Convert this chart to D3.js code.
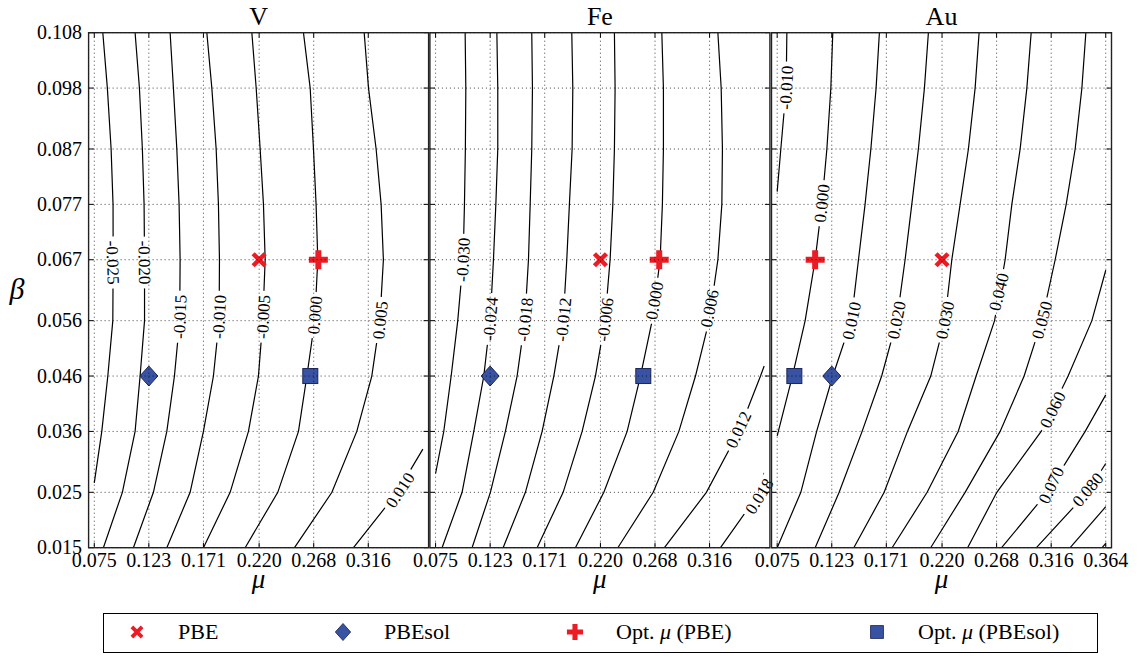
<!DOCTYPE html>
<html>
<head>
<meta charset="utf-8">
<script src="https://cdn.jsdelivr.net/npm/d3@7/dist/d3.min.js"></script>
<style>
  body { margin: 0; background: #fff; }
  svg { display: block; font-family: "Liberation Serif", "Times New Roman", serif; }
</style>
</head>
<body>
<div id="chart"></div>
<script>
//Panel titles and axis ticks (ticks sit on the printed values)
const panelNames = ["V", "Fe", "Au"];
const xTickValues = [0.075, 0.123, 0.171, 0.220, 0.268, 0.316, 0.364];
const xTickLabels = ["0.075", "0.123", "0.171", "0.220", "0.268", "0.316", "0.364"];
//number of x ticks shown in each panel (the last one only on Au)
const xTickCount = [6, 6, 7];
const yTickValues = [0.015, 0.025, 0.036, 0.046, 0.056, 0.067, 0.077, 0.087, 0.098, 0.108];
const yTickLabels = ["0.015", "0.025", "0.036", "0.046", "0.056", "0.067", "0.077", "0.087", "0.098", "0.108"];

//Contour lines: [level, [[mu, beta], ...]]
const contoursV = [
  ["-0.025", [[0.0825,0.108],[0.0865,0.098],[0.0898,0.087],[0.0915,0.077],[0.0916,0.067],[0.0913,0.056],[0.0869,0.046],[0.0816,0.036],[0.075,0.0267]]],
  ["-0.020", [[0.1109,0.108],[0.1147,0.098],[0.1173,0.087],[0.1188,0.077],[0.1192,0.067],[0.1192,0.056],[0.1153,0.046],[0.1109,0.036],[0.0997,0.025],[0.0830,0.015]]],
  ["-0.015", [[0.1417,0.108],[0.1446,0.098],[0.1476,0.087],[0.1496,0.077],[0.1505,0.067],[0.1501,0.056],[0.1455,0.046],[0.1388,0.036],[0.1270,0.025],[0.1094,0.015]]],
  ["-0.010", [[0.1740,0.108],[0.1784,0.098],[0.1822,0.087],[0.1842,0.077],[0.1851,0.067],[0.1848,0.056],[0.1798,0.046],[0.1710,0.036],[0.1593,0.025],[0.1388,0.015]]],
  ["-0.005", [[0.2136,0.108],[0.2174,0.098],[0.2209,0.087],[0.2238,0.077],[0.2253,0.067],[0.2232,0.056],[0.2194,0.046],[0.2106,0.036],[0.1945,0.025],[0.1710,0.015]]],
  ["0.000",  [[0.2590,0.108],[0.2649,0.098],[0.2678,0.087],[0.2701,0.077],[0.2716,0.067],[0.2689,0.056],[0.2620,0.046],[0.2546,0.036],[0.2364,0.025],[0.2077,0.015]]],
  ["0.005",  [[0.3124,0.108],[0.3162,0.098],[0.3229,0.087],[0.3273,0.077],[0.3293,0.067],[0.3262,0.056],[0.3191,0.046],[0.3059,0.036],[0.2840,0.025],[0.2511,0.015]]],
  ["0.010",  [[0.364,0.0328],[0.3414,0.025],[0.3030,0.015]]]
];
const contoursFe = [
  ["-0.030", [[0.1010,0.108],[0.1016,0.098],[0.1012,0.087],[0.1004,0.077],[0.0992,0.067],[0.0945,0.056],[0.0887,0.046],[0.0822,0.036],[0.075,0.0284]]],
  ["-0.024", [[0.1289,0.108],[0.1297,0.098],[0.1297,0.087],[0.1280,0.077],[0.1259,0.067],[0.1230,0.056],[0.1174,0.046],[0.1086,0.036],[0.0983,0.025],[0.0807,0.015]]],
  ["-0.018", [[0.1596,0.108],[0.1602,0.098],[0.1596,0.087],[0.1582,0.077],[0.1567,0.067],[0.1535,0.056],[0.1467,0.046],[0.1364,0.036],[0.1232,0.025],[0.1071,0.015]]],
  ["-0.012", [[0.1948,0.108],[0.1957,0.098],[0.1951,0.087],[0.1927,0.077],[0.1904,0.067],[0.1872,0.056],[0.1790,0.046],[0.1687,0.036],[0.1540,0.025],[0.1344,0.015]]],
  ["-0.006", [[0.2323,0.108],[0.2329,0.098],[0.2323,0.087],[0.2309,0.077],[0.2285,0.067],[0.2240,0.056],[0.2156,0.046],[0.2039,0.036],[0.1872,0.025],[0.1643,0.015]]],
  ["0.000",  [[0.2740,0.108],[0.2754,0.098],[0.2754,0.087],[0.2745,0.077],[0.2725,0.067],[0.2655,0.056],[0.2552,0.046],[0.2435,0.036],[0.2230,0.025],[0.1980,0.015]]],
  ["0.006",  [[0.3233,0.108],[0.3262,0.098],[0.3273,0.087],[0.3268,0.077],[0.3233,0.067],[0.3156,0.056],[0.3036,0.046],[0.2890,0.036],[0.2664,0.025],[0.2353,0.015]]],
  ["0.012",  [[0.364,0.0478],[0.3608,0.046],[0.3417,0.036],[0.3132,0.025],[0.2763,0.015]]],
  ["0.018",  [[0.364,0.0285],[0.3600,0.025],[0.3256,0.015]]]
];
const contoursAu = [
  ["-0.010", [[0.0835,0.108],[0.0829,0.098],[0.0782,0.087],[0.075,0.0793]]],
  ["0.000",  [[0.1239,0.108],[0.1222,0.098],[0.1187,0.087],[0.1143,0.077],[0.1084,0.067],[0.0996,0.056],[0.0884,0.046],[0.075,0.0352]]],
  ["0.010",  [[0.1649,0.108],[0.1620,0.098],[0.1574,0.087],[0.1523,0.077],[0.1465,0.067],[0.1402,0.056],[0.1239,0.046],[0.1097,0.036],[0.0958,0.025],[0.075,0.015]]],
  ["0.020",  [[0.2080,0.108],[0.2045,0.098],[0.1992,0.087],[0.1934,0.077],[0.1875,0.067],[0.1802,0.056],[0.1669,0.046],[0.1497,0.036],[0.1295,0.025],[0.1084,0.015]]],
  ["0.030",  [[0.2526,0.108],[0.2491,0.098],[0.2432,0.087],[0.2359,0.077],[0.2286,0.067],[0.2225,0.056],[0.2101,0.046],[0.1896,0.036],[0.1691,0.025],[0.1424,0.015]]],
  ["0.040",  [[0.2984,0.108],[0.2946,0.098],[0.2887,0.087],[0.2814,0.077],[0.2755,0.067],[0.2662,0.056],[0.2500,0.046],[0.2342,0.036],[0.2069,0.025],[0.1761,0.015]]],
  ["0.050",  [[0.3465,0.108],[0.3430,0.098],[0.3371,0.087],[0.3292,0.077],[0.3195,0.067],[0.3078,0.056],[0.2922,0.046],[0.2711,0.036],[0.2403,0.025],[0.2100,0.015]]],
  ["0.060",  [[0.364,0.0651],[0.3518,0.056],[0.3309,0.046],[0.3072,0.036],[0.2682,0.025],[0.2425,0.015]]],
  ["0.070",  [[0.364,0.0426],[0.3459,0.036],[0.3126,0.025],[0.2724,0.015]]],
  ["0.080",  [[0.364,0.0302],[0.3478,0.025],[0.3030,0.015]]],
  ["0.090",  [[0.364,0.0224],[0.3327,0.015]]],
  ["0.100",  [[0.364,0.0158],[0.3608,0.015]]]
];

//Inline contour labels: [text, mu, beta, rotation]
const labelsV = [
  ["-0.025", 0.0913, 0.0665, 88], ["-0.020", 0.1192, 0.0665, 89],
  ["-0.015", 0.1503, 0.0567, -88], ["-0.010", 0.1849, 0.0567, -87],
  ["-0.005", 0.2236, 0.0567, -87], ["0.000", 0.2690, 0.0570, -85],
  ["0.005", 0.3265, 0.0561, -84], ["0.010", 0.3440, 0.0254, -56]
];
const labelsFe = [
  ["-0.030", 0.0992, 0.0670, -87], ["-0.024", 0.1232, 0.0563, -85],
  ["-0.018", 0.1537, 0.0562, -84], ["-0.012", 0.1874, 0.0562, -84],
  ["-0.006", 0.2242, 0.0562, -83], ["0.000", 0.2675, 0.0596, -80],
  ["0.006", 0.3160, 0.0582, -79], ["0.012", 0.3414, 0.0363, -65],
  ["0.018", 0.3597, 0.0243, -58]
];
const labelsAu = [
  ["-0.010", 0.0831, 0.0981, -87], ["0.000", 0.1143, 0.0772, -84],
  ["0.010", 0.1405, 0.0560, -78], ["0.020", 0.1800, 0.0561, -79],
  ["0.030", 0.2226, 0.0561, -78], ["0.040", 0.2700, 0.0612, -76],
  ["0.050", 0.3079, 0.0561, -75], ["0.060", 0.3173, 0.0399, -64],
  ["0.070", 0.3160, 0.0263, -65], ["0.080", 0.3482, 0.0255, -50]
];

//Functional points (same beta in every panel), mu per panel V, Fe, Au
const pbeMu = [0.220, 0.220, 0.220];
const pbeBeta = 0.067;
const pbesolMu = [0.123, 0.123, 0.123];
const pbesolBeta = 0.046;
const optPbeMu = [0.2721, 0.2717, 0.1084];
const optPbesolMu = [0.2650, 0.2577, 0.0901];

const legendLabels = ["PBE", "PBEsol", "Opt. \u03bc (PBE)", "Opt. \u03bc (PBEsol)"];

//------------------------------------------------------------------------------------->
const red = "#ec1c24", blue = "#3953a4", navy = "#1c2553";
const panelLeft = [88.6, 429.9, 771.5], panelWidth = 340;
const plotTop = 32.7, plotBottom = 547.7;
const pxPerMu = 1136.9;

const svg = d3.select("#chart").append("svg").attr("width", 1139).attr("height", 658);
const defs = svg.append("defs");
const yScale = d3.scaleLinear().domain([0.015, 0.108]).range([plotBottom, plotTop]);

const contourSets = [contoursV, contoursFe, contoursAu];
const labelSets = [labelsV, labelsFe, labelsAu];

function marker(g, kind, cx, cy, s) {
  let m = g.append("g").attr("transform", "translate(" + cx + "," + cy + ") scale(" + s + ")");
  if (kind === "pbe") {
    m.append("path").attr("d", "M-6,-6L6,6M-6,6L6,-6")
      .attr("stroke", red).attr("stroke-width", 4.5).attr("fill", "none");
  } else if (kind === "optPbe") {
    m.append("path").attr("d", "M-9.5,0H9.5M0,-9.5V9.5")
      .attr("stroke", red).attr("stroke-width", 6).attr("fill", "none");
  } else if (kind === "pbesol") {
    m.append("path").attr("d", "M0,-10L9,0L0,10L-9,0Z")
      .attr("fill", blue).attr("stroke", navy).attr("stroke-width", 1);
  } else {
    m.append("rect").attr("x", -7.5).attr("y", -7.5).attr("width", 15).attr("height", 15)
      .attr("fill", blue).attr("stroke", navy).attr("stroke-width", 1);
  }
}

panelNames.forEach(function (name, i) {
  let x0 = panelLeft[i], x1 = x0 + panelWidth;
  let xScale = d3.scaleLinear().domain([0.07, 0.07 + panelWidth / pxPerMu]).range([x0, x1]);
  let xTicks = xTickValues.slice(0, xTickCount[i]);
  let g = svg.append("g").attr("class", "panel");

  //mask that cuts the contour lines where the labels sit
  let mask = defs.append("mask").attr("id", "cut" + i)
    .attr("maskUnits", "userSpaceOnUse").attr("x", 0).attr("y", 0)
    .attr("width", 1139).attr("height", 658);
  mask.append("rect").attr("width", 1139).attr("height", 658).attr("fill", "#fff");

  let line = d3.line().x(d => xScale(d[0])).y(d => yScale(d[1]));
  g.append("g").attr("mask", "url(#cut" + i + ")")
    .selectAll("path").data(contourSets[i]).enter().append("path")
    .attr("d", d => line(d[1]))
    .attr("fill", "none").attr("stroke", "#000").attr("stroke-width", 1.2);

  g.append("g").selectAll("text").data(labelSets[i]).enter().append("text")
    .attr("transform", d => "translate(" + xScale(d[1]) + "," + yScale(d[2]) + ") rotate(" + d[3] + ")")
    .attr("text-anchor", "middle").attr("dy", "0.34em")
    .attr("font-size", 17).attr("fill", "#000")
    .text(d => d[0])
    .each(function (d) {
      let w = this.getComputedTextLength() + 8;
      mask.append("rect").attr("x", -w / 2).attr("y", -8).attr("width", w).attr("height", 16)
        .attr("transform", "translate(" + xScale(d[1]) + "," + yScale(d[2]) + ") rotate(" + d[3] + ")")
        .attr("fill", "#000");
    });

  //markers
  let mk = g.append("g");
  marker(mk, "pbesol", xScale(pbesolMu[i]), yScale(pbesolBeta), 1);
  marker(mk, "optPbesol", xScale(optPbesolMu[i]), yScale(pbesolBeta), 1);
  marker(mk, "pbe", xScale(pbeMu[i]), yScale(pbeBeta), 1);
  marker(mk, "optPbe", xScale(optPbeMu[i]), yScale(pbeBeta), 1);

  //dotted grid on top, as in the original
  let grid = g.append("g").attr("stroke", "#000").attr("stroke-width", 1)
    .attr("stroke-dasharray", "1,3").attr("opacity", 0.75);
  grid.selectAll(".gx").data(xTicks).enter().append("line")
    .attr("x1", d => xScale(d)).attr("x2", d => xScale(d)).attr("y1", plotTop).attr("y2", plotBottom);
  grid.selectAll(".gy").data(yTickValues).enter().append("line")
    .attr("x1", x0).attr("x2", x1).attr("y1", d => yScale(d)).attr("y2", d => yScale(d));

  //inward ticks on all four sides
  let ticks = g.append("g").attr("stroke", "#000").attr("stroke-width", 1);
  xTicks.forEach(function (v) {
    ticks.append("line").attr("x1", xScale(v)).attr("x2", xScale(v)).attr("y1", plotBottom).attr("y2", plotBottom - 5);
    ticks.append("line").attr("x1", xScale(v)).attr("x2", xScale(v)).attr("y1", plotTop).attr("y2", plotTop + 5);
  });
  yTickValues.forEach(function (v) {
    ticks.append("line").attr("x1", x0).attr("x2", x0 + 5).attr("y1", yScale(v)).attr("y2", yScale(v));
    ticks.append("line").attr("x1", x1).attr("x2", x1 - 5).attr("y1", yScale(v)).attr("y2", yScale(v));
  });

  g.append("rect").attr("x", x0).attr("y", plotTop).attr("width", panelWidth).attr("height", plotBottom - plotTop)
    .attr("fill", "none").attr("stroke", "#222").attr("stroke-width", 1.4);

  //tick labels
  g.append("g").selectAll("text").data(xTicks).enter().append("text")
    .attr("x", d => xScale(d)).attr("y", 567).attr("text-anchor", "middle")
    .attr("font-size", 20).text((d, k) => xTickLabels[k]);
  if (i === 0) {
    g.append("g").selectAll("text").data(yTickValues).enter().append("text")
      .attr("x", 82).attr("y", d => yScale(d)).attr("dy", "0.33em").attr("text-anchor", "end")
      .attr("font-size", 20).text((d, k) => yTickLabels[k]);
  }

  //title and x label
  g.append("text").attr("x", (x0 + x1) / 2).attr("y", 25).attr("text-anchor", "middle")
    .attr("font-size", 26).text(name);
  g.append("text").attr("x", (x0 + x1) / 2).attr("y", 588).attr("text-anchor", "middle")
    .attr("font-size", 27).attr("font-style", "italic").text("\u03bc");
});

svg.append("text").attr("x", 17).attr("y", (plotTop + plotBottom) / 2).attr("dy", "0.3em")
  .attr("text-anchor", "middle").attr("font-size", 30).attr("font-style", "italic").text("\u03b2");

//------------------------------------------------------------------------------------->
//Legend, one row with four entries
let legend = svg.append("g");
legend.append("rect").attr("x", 103.5).attr("y", 613.5).attr("width", 994).attr("height", 39)
  .attr("fill", "#fff").attr("stroke", "#000").attr("stroke-width", 1);
const legendKinds = ["pbe", "pbesol", "optPbe", "optPbesol"];
const legendX = [137, 343, 575, 877];
legendKinds.forEach(function (k, j) {
  marker(legend, k, legendX[j], 632, 0.85);
  let t = legend.append("text").attr("x", legendX[j] + 41).attr("y", 639).attr("font-size", 22);
  let parts = legendLabels[j].split("\u03bc");
  t.append("tspan").text(parts[0]);
  if (parts.length > 1) {
    t.append("tspan").attr("font-style", "italic").text("\u03bc");
    t.append("tspan").text(parts[1]);
  }
});
</script>
</body>
</html>
